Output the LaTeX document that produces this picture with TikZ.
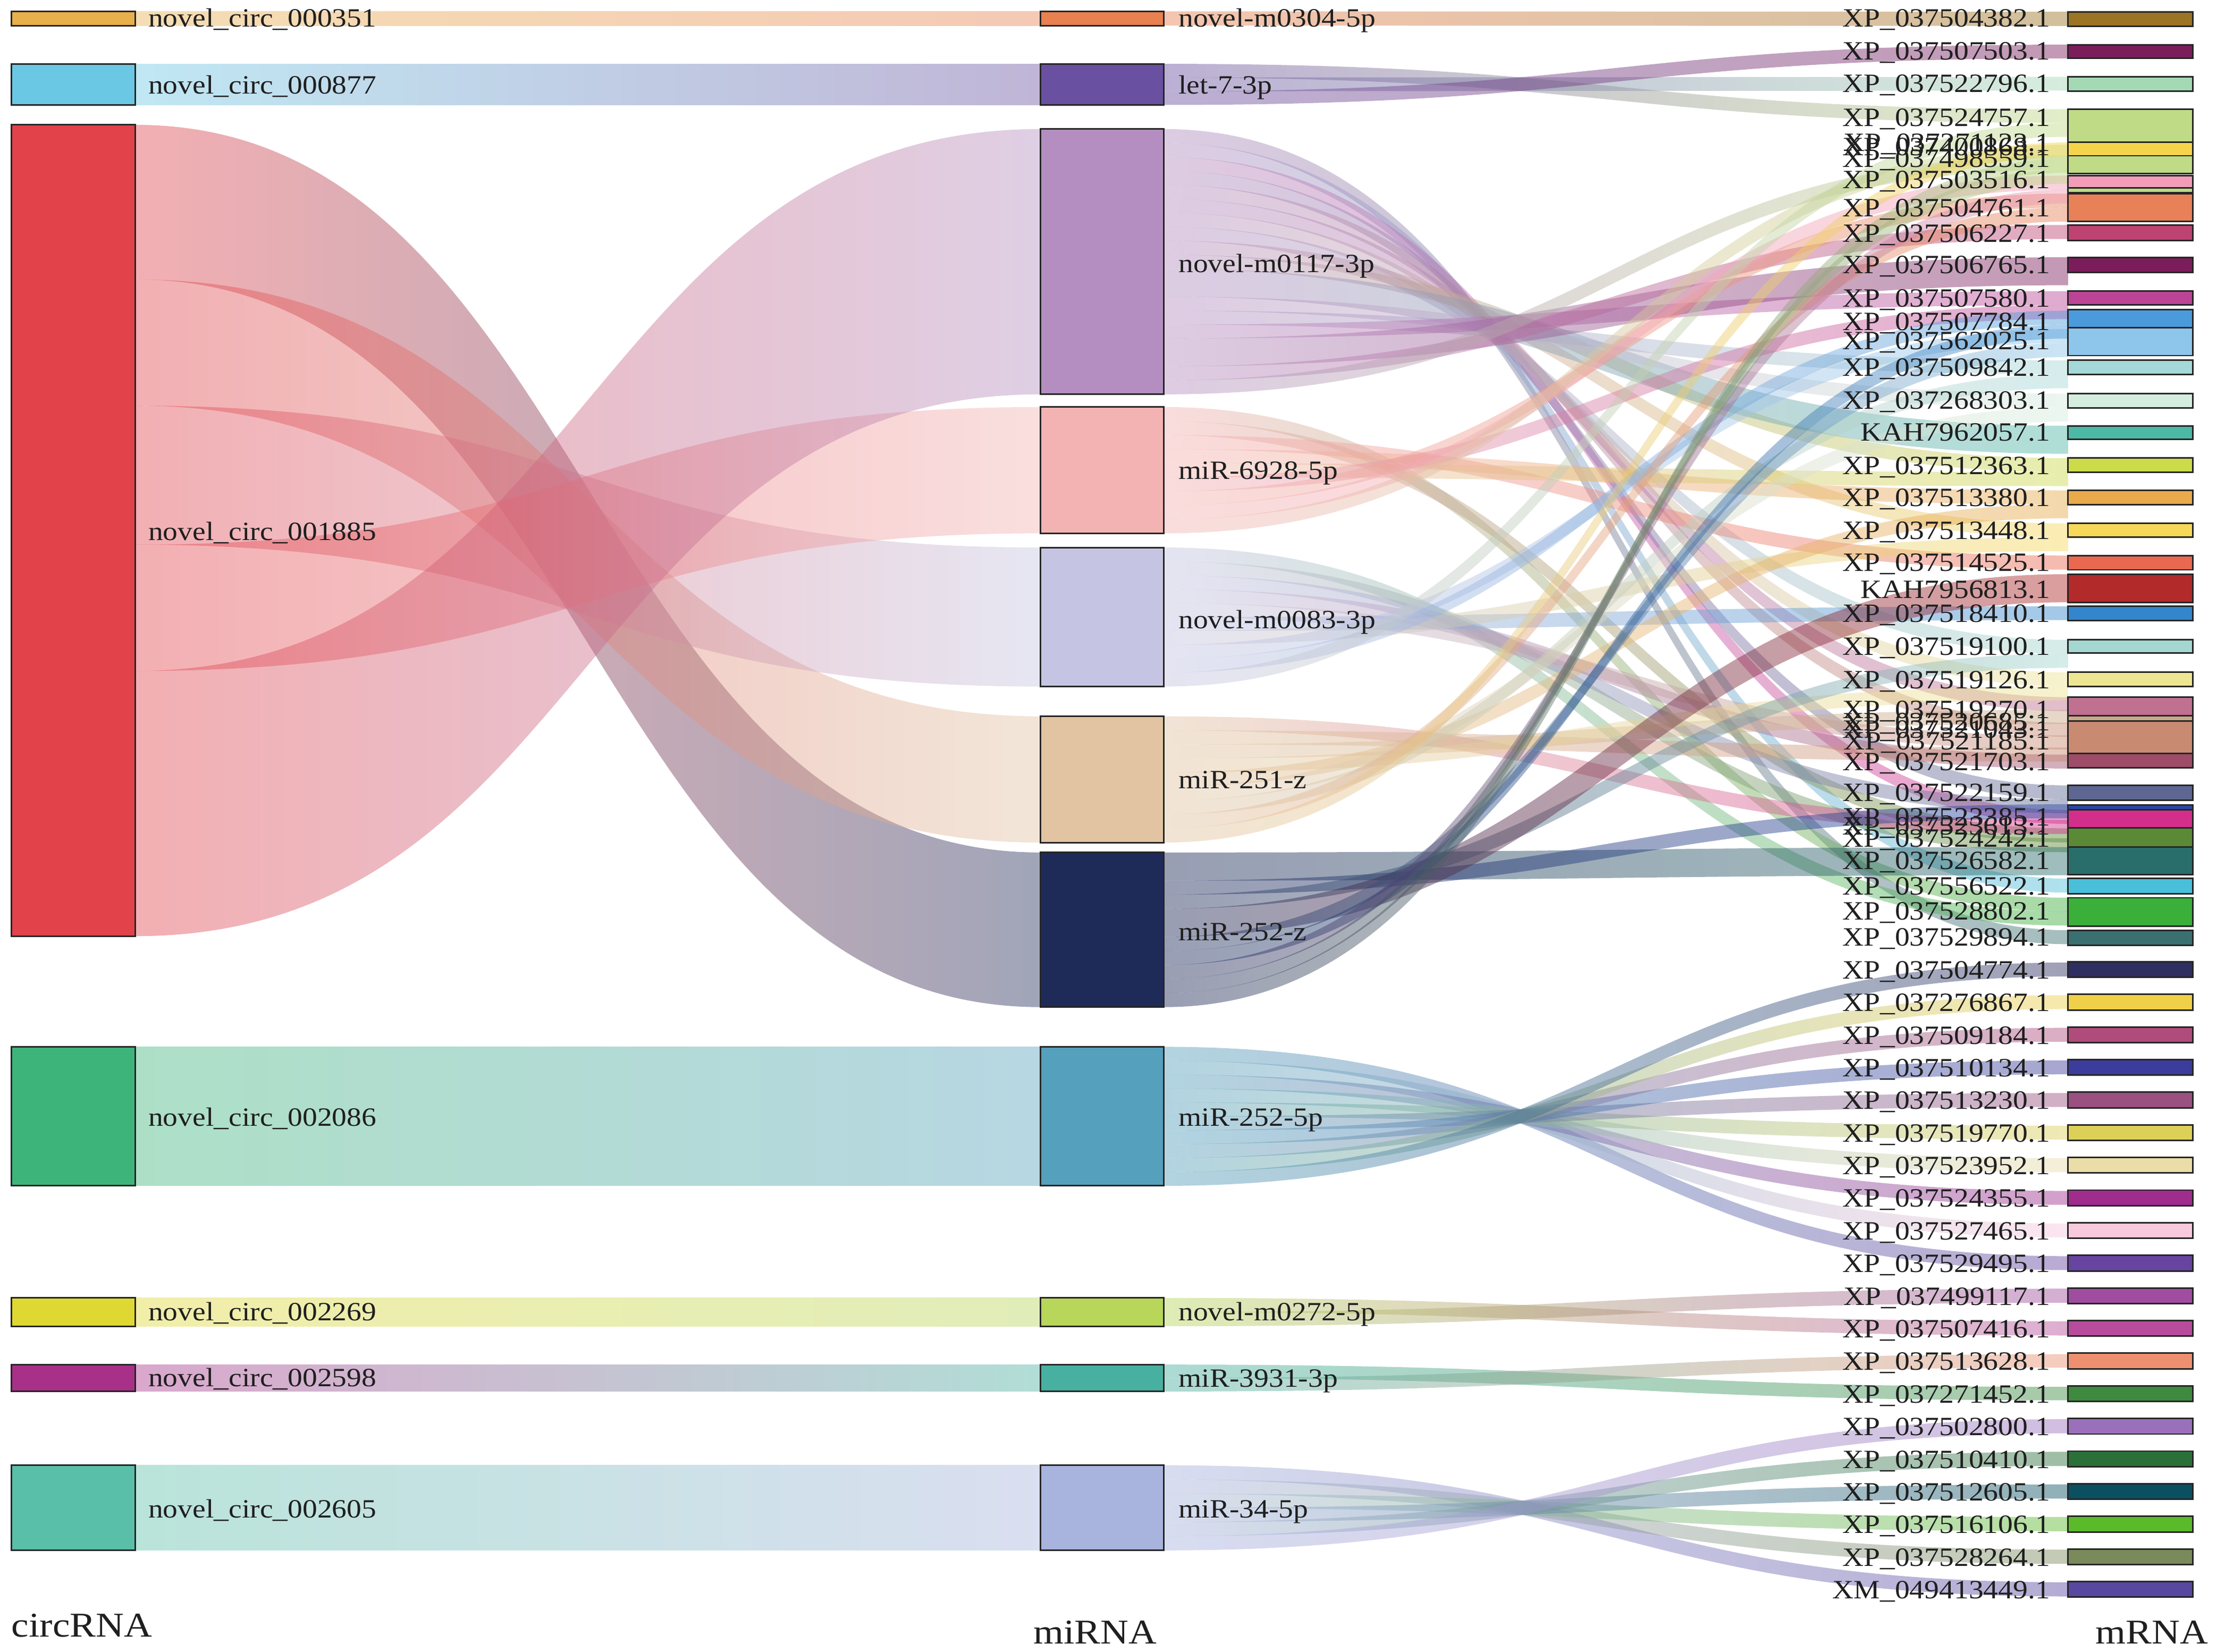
\documentclass[tikz,border=0pt]{standalone}
\usepackage{fontspec}
\newfontfamily\labfont[FakeStretch=1.12]{Liberation Serif}
% circRNA colours
\definecolor{c351}{HTML}{E8B04A}
\definecolor{c877}{HTML}{6AC8E4}
\definecolor{c1885}{HTML}{E2424A}
\definecolor{c2086}{HTML}{3DB57A}
\definecolor{c2269}{HTML}{E0D832}
\definecolor{c2598}{HTML}{A83088}
\definecolor{c2605}{HTML}{5ABFA8}
% miRNA colours
\definecolor{mA}{HTML}{E98050}
\definecolor{mB}{HTML}{6A50A0}
\definecolor{mC}{HTML}{B48EC0}
\definecolor{mD}{HTML}{F4B3B3}
\definecolor{mE}{HTML}{C5C5E3}
\definecolor{mF}{HTML}{E2C4A2}
\definecolor{mG}{HTML}{1E2A58}
\definecolor{mH}{HTML}{55A0BC}
\definecolor{mI}{HTML}{B8D65A}
\definecolor{mJ}{HTML}{48B0A0}
\definecolor{mK}{HTML}{A8B4DE}
% mRNA colours
\definecolor{t504382}{HTML}{9B7424}
\definecolor{t507503}{HTML}{7B1D5B}
\definecolor{t522796}{HTML}{A3D9B5}
\definecolor{t524757}{HTML}{BFDB86}
\definecolor{t271123}{HTML}{F5D44B}
\definecolor{t498559}{HTML}{BFDB86}
\definecolor{t503516}{HTML}{F29CB7}
\definecolor{t400868}{HTML}{BFDB86}
\definecolor{t504761}{HTML}{E88058}
\definecolor{t506227}{HTML}{BE4272}
\definecolor{t506765}{HTML}{7B1D5B}
\definecolor{t507580}{HTML}{BC4496}
\definecolor{t507784}{HTML}{4A9ADC}
\definecolor{t562025}{HTML}{8DC6EA}
\definecolor{t509842}{HTML}{A5D8D8}
\definecolor{t268303}{HTML}{D5EDDF}
\definecolor{tK62057}{HTML}{4CB8A6}
\definecolor{t512363}{HTML}{CBDB4A}
\definecolor{t513380}{HTML}{E8AA4A}
\definecolor{t513448}{HTML}{F7D858}
\definecolor{t514525}{HTML}{EA6850}
\definecolor{tK56813}{HTML}{B22A2A}
\definecolor{t518410}{HTML}{3486CC}
\definecolor{t519100}{HTML}{A3D7CF}
\definecolor{t519126}{HTML}{EEE592}
\definecolor{t519270}{HTML}{C07090}
\definecolor{t520685}{HTML}{C8A888}
\definecolor{t521185}{HTML}{C98A72}
\definecolor{t521703}{HTML}{9E4C68}
\definecolor{t522159}{HTML}{5E6792}
\definecolor{t523613}{HTML}{2848A8}
\definecolor{t523385}{HTML}{D42E8C}
\definecolor{t524242}{HTML}{5A8A35}
\definecolor{t526582}{HTML}{2A6E6C}
\definecolor{t556522}{HTML}{4ABFDA}
\definecolor{t528802}{HTML}{3AAF3A}
\definecolor{t529894}{HTML}{3A7070}
\definecolor{t504774}{HTML}{2E2E60}
\definecolor{t276867}{HTML}{F0D048}
\definecolor{t509184}{HTML}{B04C7C}
\definecolor{t510134}{HTML}{3C3C9C}
\definecolor{t513230}{HTML}{9A5080}
\definecolor{t519770}{HTML}{DDD058}
\definecolor{t523952}{HTML}{EBDDA8}
\definecolor{t524355}{HTML}{A02C8E}
\definecolor{t527465}{HTML}{F8C8DC}
\definecolor{t529495}{HTML}{6644A0}
\definecolor{t499117}{HTML}{A04CA0}
\definecolor{t507416}{HTML}{B84C9C}
\definecolor{t513628}{HTML}{EE9070}
\definecolor{t271452}{HTML}{3E8A3E}
\definecolor{t502800}{HTML}{9A70BC}
\definecolor{t510410}{HTML}{2A7038}
\definecolor{t512605}{HTML}{0A5060}
\definecolor{t516106}{HTML}{5ABA2A}
\definecolor{t528264}{HTML}{7A8A5A}
\definecolor{tXM49}{HTML}{5848A0}
\tikzset{
  nbox/.style={draw=black!85,line width=1.1pt,inner sep=0pt,outer sep=0pt},
  lab/.style={font={\labfont\fontsize{18.6pt}{20pt}\selectfont},text=black!88,inner sep=0pt},
  ttl/.style={font={\labfont\fontsize{24.5pt}{26pt}\selectfont},text=black!88,inner sep=0pt},
  mlink/.style={fill opacity=0.45},
  clink/.style={fill opacity=0.42}
}
% band from miRNA column to mRNA column: ysrc ytgt width c1 c2
\newcommand\ML[5]{\shade[mlink,left color=#4,right color=#5] (820.6,#1) .. controls (1139.3,#1) and (1139.3,#2) .. (1458,#2) -- (1458,#2+#3) .. controls (1139.3,#2+#3) and (1139.3,#1+#3) .. (820.6,#1+#3) -- cycle;}
% band from circRNA column to miRNA column
\newcommand\CL[5]{\shade[clink,left color=#4,right color=#5] (95.3,#1) .. controls (414.45,#1) and (414.45,#2) .. (733.6,#2) -- (733.6,#2+#3) .. controls (414.45,#2+#3) and (414.45,#1+#3) .. (95.3,#1+#3) -- cycle;}
% box: name x ytop width height colour
\newcommand\bx[6]{\node[nbox,fill=#6,minimum width=#4pt,minimum height=#5pt,anchor=north west] (#1) at (#2,#3) {};}
\newcommand\labW[4]{\node[lab,anchor=base west] (#1) at (#2,#3) {#4};}
\newcommand\labE[4]{\node[lab,anchor=base east] (#1) at (#2,#3) {#4};}
\begin{document}
\begin{tikzpicture}[x=1pt,y=-1pt]
\fill[white] (0,0) rectangle (1563,1164.3);
\useasboundingbox (0,0) rectangle (1563,1164.3);
% circRNA -> miRNA
\CL{8}{8}{10}{c351}{mA}
\CL{45}{45}{29}{c877}{mB}
\CL{88}{601}{109}{c1885}{mG}
\CL{197}{505}{89}{c1885}{mF}
\CL{286}{386}{98}{c1885}{mE}
\CL{384}{287}{89}{c1885}{mD}
\CL{473}{91}{187}{c1885}{mC}
\CL{738}{738}{98}{c2086}{mH}
\CL{915}{915}{20}{c2269}{mI}
\CL{962}{962}{19}{c2598}{mJ}
\CL{1033}{1033}{60}{c2605}{mK}
% miRNA -> mRNA
\ML{8}{8.3}{10}{mA}{t504382}
\ML{45}{77}{9.667}{mB}{t524757}
\ML{54.667}{54.2}{9.667}{mB}{t522796}
\ML{64.333}{31.5}{9.667}{mB}{t507503}
\ML{91}{655.8}{9.842}{mC}{t529894}
\ML{100.842}{619.4}{9.842}{mC}{t556522}
\ML{110.684}{571}{9.842}{mC}{t523385}
\ML{120.526}{553.7}{9.842}{mC}{t522159}
\ML{130.368}{509.5}{9.842}{mC}{t521185}
\ML{140.21}{491.5}{9.842}{mC}{t519270}
\ML{150.052}{474}{9.842}{mC}{t519126}
\ML{159.894}{451.1}{9.842}{mC}{t519100}
\ML{169.736}{369}{9.842}{mC}{t513448}
\ML{179.578}{323}{9.842}{mC}{t512363}
\ML{189.42}{300.2}{19.684}{mC}{tK62057}
\ML{209.104}{277.5}{9.842}{mC}{t268303}
\ML{218.946}{254}{9.842}{mC}{t509842}
\ML{228.788}{205.3}{9.842}{mC}{t507580}
\ML{238.63}{181.4}{19.684}{mC}{t506765}
\ML{258.314}{158.6}{9.842}{mC}{t506227}
\ML{268.156}{109.8}{9.842}{mC}{t498559}
\ML{287}{632.9}{9.889}{mD}{t528802}
\ML{296.889}{584}{9.889}{mD}{t524242}
\ML{306.778}{391.7}{9.889}{mD}{t514525}
\ML{316.667}{345.7}{9.889}{mD}{t513380}
\ML{326.556}{332.8}{9.889}{mD}{t512363}
\ML{336.444}{215.1}{9.889}{mD}{t507580}
\ML{346.333}{136.5}{9.889}{mD}{t504761}
\ML{356.222}{123.8}{9.889}{mD}{t503516}
\ML{366.111}{102}{9.889}{mD}{t400868}
\ML{386}{642.7}{9.8}{mE}{t528802}
\ML{395.8}{591}{9.8}{mE}{t524242}
\ML{405.6}{563.5}{9.8}{mE}{t522159}
\ML{415.4}{532}{9.8}{mE}{t521703}
\ML{425.2}{518.5}{9.8}{mE}{t521185}
\ML{435}{427.4}{9.8}{mE}{t518410}
\ML{444.8}{378.8}{9.8}{mE}{t513448}
\ML{454.6}{232}{9.8}{mE}{t562025}
\ML{464.4}{219}{9.8}{mE}{t507784}
\ML{474.2}{86.7}{9.8}{mE}{t524757}
\ML{505}{578}{9.889}{mF}{t523385}
\ML{514.889}{527}{9.889}{mF}{t521185}
\ML{524.778}{500.5}{9.889}{mF}{t520685}
\ML{534.667}{483.8}{9.889}{mF}{t519126}
\ML{544.556}{355.5}{9.889}{mF}{t513380}
\ML{554.444}{287.3}{9.889}{mF}{t268303}
\ML{564.333}{263.8}{9.889}{mF}{t509842}
\ML{574.222}{146.3}{9.889}{mF}{t504761}
\ML{584.111}{100.4}{9.889}{mF}{t271123}
\ML{601}{597.2}{19.818}{mG}{t526582}
\ML{620.818}{567}{9.909}{mG}{t523613}
\ML{630.727}{460.9}{9.909}{mG}{t519100}
\ML{640.636}{404.8}{19.818}{mG}{tK56813}
\ML{660.455}{241.8}{9.909}{mG}{t562025}
\ML{670.364}{228.8}{9.909}{mG}{t507784}
\ML{680.273}{133.6}{9.909}{mG}{t503516}
\ML{690.182}{119.6}{9.909}{mG}{t498559}
\ML{700.091}{111.8}{9.909}{mG}{t400868}
\ML{738}{885.6}{9.8}{mH}{t529495}
\ML{747.8}{862.6}{9.8}{mH}{t527465}
\ML{757.6}{839.6}{9.8}{mH}{t524355}
\ML{767.4}{816.6}{9.8}{mH}{t523952}
\ML{777.2}{793.6}{9.8}{mH}{t519770}
\ML{787}{770.6}{9.8}{mH}{t513230}
\ML{796.8}{747.6}{9.8}{mH}{t510134}
\ML{806.6}{724.6}{9.8}{mH}{t509184}
\ML{816.4}{701.6}{9.8}{mH}{t276867}
\ML{826.2}{678.6}{9.8}{mH}{t504774}
\ML{915}{931.5}{10}{mI}{t507416}
\ML{925}{908.5}{10}{mI}{t499117}
\ML{962}{977.7}{9.5}{mJ}{t271452}
\ML{971.5}{954.7}{9.5}{mJ}{t513628}
\ML{1033}{1115.5}{10}{mK}{tXM49}
\ML{1043}{1092.5}{10}{mK}{t528264}
\ML{1053}{1069.5}{10}{mK}{t516106}
\ML{1063}{1046.5}{10}{mK}{t512605}
\ML{1073}{1023.5}{10}{mK}{t510410}
\ML{1083}{1000.5}{10}{mK}{t502800}
% circRNA boxes
\bx{b351}{8.2}{8}{87.1}{10}{c351}
\bx{b877}{8.2}{45}{87.1}{29}{c877}
\bx{b1885}{8.2}{88}{87.1}{572}{c1885}
\bx{b2086}{8.2}{738}{87.1}{98}{c2086}
\bx{b2269}{8.2}{915}{87.1}{20}{c2269}
\bx{b2598}{8.2}{962}{87.1}{19}{c2598}
\bx{b2605}{8.2}{1033}{87.1}{60}{c2605}
% miRNA boxes
\bx{m0304}{733.6}{8}{87}{10}{mA}
\bx{let7}{733.6}{45}{87}{29}{mB}
\bx{m0117}{733.6}{91}{87}{187}{mC}
\bx{m6928}{733.6}{287}{87}{89}{mD}
\bx{m0083}{733.6}{386}{87}{98}{mE}
\bx{m251z}{733.6}{505}{87}{89}{mF}
\bx{m252z}{733.6}{601}{87}{109}{mG}
\bx{m2525p}{733.6}{738}{87}{98}{mH}
\bx{m0272}{733.6}{915}{87}{20}{mI}
\bx{m3931}{733.6}{962}{87}{19}{mJ}
\bx{m345p}{733.6}{1033}{87}{60}{mK}
% mRNA boxes
\bx{x504382}{1458}{8.3}{88}{10.2}{t504382}
\bx{x507503}{1458}{31.5}{88}{9.5}{t507503}
\bx{x522796}{1458}{54.2}{88}{10}{t522796}
\bx{x524757}{1458}{77}{88}{23.4}{t524757}
\bx{x271123}{1458}{100.4}{88}{9.4}{t271123}
\bx{x498559}{1458}{109.8}{88}{12.7}{t498559}
\bx{x503516}{1458}{123.8}{88}{8.7}{t503516}
\bx{x400868}{1458}{132.5}{88}{3.4}{t400868}
\bx{x504761}{1458}{136.5}{88}{19.5}{t504761}
\bx{x506227}{1458}{158.6}{88}{10.8}{t506227}
\bx{x506765}{1458}{181.4}{88}{10.7}{t506765}
\bx{x507580}{1458}{205.3}{88}{9.5}{t507580}
\bx{x507784}{1458}{218.4}{88}{12.7}{t507784}
\bx{x562025}{1458}{231.1}{88}{19.6}{t562025}
\bx{x509842}{1458}{254}{88}{10}{t509842}
\bx{x268303}{1458}{277.5}{88}{10}{t268303}
\bx{xK62057}{1458}{300.2}{88}{9.6}{tK62057}
\bx{x512363}{1458}{323}{88}{10}{t512363}
\bx{x513380}{1458}{345.7}{88}{10}{t513380}
\bx{x513448}{1458}{369}{88}{9.8}{t513448}
\bx{x514525}{1458}{391.7}{88}{10}{t514525}
\bx{xK56813}{1458}{404.8}{88}{19.9}{tK56813}
\bx{x518410}{1458}{427.4}{88}{10}{t518410}
\bx{x519100}{1458}{451.1}{88}{9.4}{t519100}
\bx{x519126}{1458}{474}{88}{10}{t519126}
\bx{x519270}{1458}{491.5}{88}{13.2}{t519270}
\bx{x520685}{1458}{504.7}{88}{3.6}{t520685}
\bx{x521185}{1458}{508.3}{88}{22.9}{t521185}
\bx{x521703}{1458}{531.2}{88}{10.1}{t521703}
\bx{x522159}{1458}{553.7}{88}{10.5}{t522159}
\bx{x523613}{1458}{567.6}{88}{3.3}{t523613}
\bx{x523385}{1458}{570.9}{88}{12.8}{t523385}
\bx{x524242}{1458}{583.7}{88}{13.5}{t524242}
\bx{x526582}{1458}{597.2}{88}{19.5}{t526582}
\bx{x556522}{1458}{619.4}{88}{10.8}{t556522}
\bx{x528802}{1458}{632.9}{88}{20.2}{t528802}
\bx{x529894}{1458}{655.8}{88}{10.8}{t529894}
\bx{x504774}{1458}{678}{88}{11}{t504774}
\bx{x276867}{1458}{701}{88}{11}{t276867}
\bx{x509184}{1458}{724}{88}{11}{t509184}
\bx{x510134}{1458}{747}{88}{11}{t510134}
\bx{x513230}{1458}{770}{88}{11}{t513230}
\bx{x519770}{1458}{793}{88}{11}{t519770}
\bx{x523952}{1458}{816}{88}{11}{t523952}
\bx{x524355}{1458}{839}{88}{11}{t524355}
\bx{x527465}{1458}{862}{88}{11}{t527465}
\bx{x529495}{1458}{885}{88}{11}{t529495}
\bx{x499117}{1458}{908}{88}{11}{t499117}
\bx{x507416}{1458}{931}{88}{11}{t507416}
\bx{x513628}{1458}{954}{88}{11}{t513628}
\bx{x271452}{1458}{977}{88}{11}{t271452}
\bx{x502800}{1458}{1000}{88}{11}{t502800}
\bx{x510410}{1458}{1023}{88}{11}{t510410}
\bx{x512605}{1458}{1046}{88}{11}{t512605}
\bx{x516106}{1458}{1069}{88}{11}{t516106}
\bx{x528264}{1458}{1092}{88}{11}{t528264}
\bx{xXM49}{1458}{1115}{88}{11}{tXM49}
% circRNA labels
\labW{l351}{104.4}{19}{novel\_circ\_000351}
\labW{l877}{104.4}{66}{novel\_circ\_000877}
\labW{l1885}{104.4}{381}{novel\_circ\_001885}
\labW{l2086}{104.4}{794}{novel\_circ\_002086}
\labW{l2269}{104.4}{931}{novel\_circ\_002269}
\labW{l2598}{104.4}{977.5}{novel\_circ\_002598}
\labW{l2605}{104.4}{1070}{novel\_circ\_002605}
% miRNA labels
\labW{lm0304}{830.7}{19}{novel-m0304-5p}
\labW{llet7}{830.7}{66}{let-7-3p}
\labW{lm0117}{830.7}{192}{novel-m0117-3p}
\labW{lm6928}{830.7}{338}{miR-6928-5p}
\labW{lm0083}{830.7}{443}{novel-m0083-3p}
\labW{lm251z}{830.7}{556}{miR-251-z}
\labW{lm252z}{830.7}{663}{miR-252-z}
\labW{lm2525p}{830.7}{794}{miR-252-5p}
\labW{lm0272}{830.7}{931}{novel-m0272-5p}
\labW{lm3931}{830.7}{978}{miR-3931-3p}
\labW{lm345p}{830.7}{1070}{miR-34-5p}
% mRNA labels
\labE{y504382}{1445.5}{19}{XP\_037504382.1}
\labE{y507503}{1445.5}{42}{XP\_037507503.1}
\labE{y522796}{1445.5}{65}{XP\_037522796.1}
\labE{y524757}{1445.5}{89}{XP\_037524757.1}
\labE{y271123}{1445.5}{106.5}{XP\_037271123.1}
\labE{y400868}{1445.5}{109.5}{XP\_037400868.1}
\labE{y498559}{1445.5}{118}{XP\_037498559.1}
\labE{y503516}{1445.5}{133}{XP\_037503516.1}
\labE{y504761}{1445.5}{152.6}{XP\_037504761.1}
\labE{y506227}{1445.5}{170.7}{XP\_037506227.1}
\labE{y506765}{1445.5}{192.7}{XP\_037506765.1}
\labE{y507580}{1445.5}{216.5}{XP\_037507580.1}
\labE{y507784}{1445.5}{233}{XP\_037507784.1}
\labE{y562025}{1445.5}{246.5}{XP\_037562025.1}
\labE{y509842}{1445.5}{265}{XP\_037509842.1}
\labE{y268303}{1445.5}{288.5}{XP\_037268303.1}
\labE{yK62057}{1445.5}{311}{KAH7962057.1}
\labE{y512363}{1445.5}{334.3}{XP\_037512363.1}
\labE{y513380}{1445.5}{357}{XP\_037513380.1}
\labE{y513448}{1445.5}{380}{XP\_037513448.1}
\labE{y514525}{1445.5}{402.8}{XP\_037514525.1}
\labE{yK56813}{1445.5}{421.7}{KAH7956813.1}
\labE{y518410}{1445.5}{438.5}{XP\_037518410.1}
\labE{y519100}{1445.5}{462}{XP\_037519100.1}
\labE{y519126}{1445.5}{485.5}{XP\_037519126.1}
\labE{y519270}{1445.5}{506.5}{XP\_037519270.1}
\labE{y520685}{1445.5}{515}{XP\_037520685.1}
\labE{y521043}{1445.5}{520.3}{XP\_037521043.1}
\labE{y521185}{1445.5}{528.4}{XP\_037521185.1}
\labE{y521703}{1445.5}{543}{XP\_037521703.1}
\labE{y522159}{1445.5}{565}{XP\_037522159.1}
\labE{y523385}{1445.5}{582.3}{XP\_037523385.1}
\labE{y523613}{1445.5}{588.4}{XP\_037523613.1}
\labE{y524242}{1445.5}{597}{XP\_037524242.1}
\labE{y526582}{1445.5}{613}{XP\_037526582.1}
\labE{y556522}{1445.5}{631}{XP\_037556522.1}
\labE{y528802}{1445.5}{648.5}{XP\_037528802.1}
\labE{y529894}{1445.5}{667}{XP\_037529894.1}
\labE{y504774}{1445.5}{690}{XP\_037504774.1}
\labE{y276867}{1445.5}{713}{XP\_037276867.1}
\labE{y509184}{1445.5}{736}{XP\_037509184.1}
\labE{y510134}{1445.5}{759}{XP\_037510134.1}
\labE{y513230}{1445.5}{782}{XP\_037513230.1}
\labE{y519770}{1445.5}{805}{XP\_037519770.1}
\labE{y523952}{1445.5}{828}{XP\_037523952.1}
\labE{y524355}{1445.5}{851}{XP\_037524355.1}
\labE{y527465}{1445.5}{874}{XP\_037527465.1}
\labE{y529495}{1445.5}{897}{XP\_037529495.1}
\labE{y499117}{1445.5}{920}{XP\_037499117.1}
\labE{y507416}{1445.5}{943}{XP\_037507416.1}
\labE{y513628}{1445.5}{966}{XP\_037513628.1}
\labE{y271452}{1445.5}{989}{XP\_037271452.1}
\labE{y502800}{1445.5}{1012}{XP\_037502800.1}
\labE{y510410}{1445.5}{1035}{XP\_037510410.1}
\labE{y512605}{1445.5}{1058}{XP\_037512605.1}
\labE{y516106}{1445.5}{1081}{XP\_037516106.1}
\labE{y528264}{1445.5}{1104}{XP\_037528264.1}
\labE{yXM49}{1445.5}{1127}{XM\_049413449.1}
% column titles
\node[ttl,anchor=base west] (tcirc) at (8,1154) {circRNA};
\node[ttl,anchor=base] (tmir) at (772,1159) {miRNA};
\node[ttl,anchor=base east] (tmrna) at (1557,1159) {mRNA};
\end{tikzpicture}
\end{document}
